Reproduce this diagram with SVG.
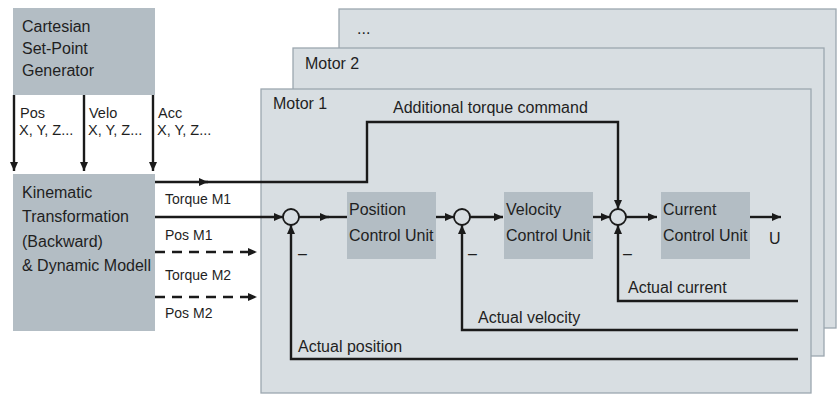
<svg xmlns="http://www.w3.org/2000/svg" width="840" height="395" viewBox="0 0 840 395">
<defs>
<marker id="ah" markerUnits="userSpaceOnUse" markerWidth="10" markerHeight="8" refX="9" refY="4" orient="auto">
<path d="M0,0 L9,4 L0,8 Z" fill="#1a1a1a"/>
</marker>
</defs>
<style>
text{font-family:"Liberation Sans",Arial,sans-serif;fill:#1f1f1f;font-size:16px}
.sm{font-size:14px}
.xs{font-size:14.5px}
.bg{fill:#d8dee2;stroke:#9ca7af;stroke-width:1.3}
.nd{fill:#b3bdc4}
.ln{fill:none;stroke:#1a1a1a;stroke-width:2.4}
.ar{marker-end:url(#ah)}
.da{stroke-dasharray:10 7}
.sj{fill:#d8dee2;stroke:#1a1a1a;stroke-width:1.8}
</style>
<rect width="840" height="395" fill="#ffffff"/>

<g id="motor-n">
<rect class="bg" x="339" y="9" width="497" height="319"/>
<text x="357" y="34">...</text>
</g>
<g id="motor-2">
<rect class="bg" x="293" y="48" width="531" height="308"/>
<text x="305" y="69">Motor 2</text>
</g>
<g id="motor-1">
<rect class="bg" x="261" y="89" width="550" height="304"/>
<text x="273" y="109">Motor 1</text>
</g>

<g id="setpoint-generator">
<rect class="nd" x="13" y="8" width="142" height="87"/>
<text x="22" y="32">Cartesian</text>
<text x="22" y="54">Set-Point</text>
<text x="22" y="76">Generator</text>
</g>

<g id="kinematic">
<rect class="nd" x="13" y="174" width="142" height="157"/>
<text x="22" y="198">Kinematic</text>
<text x="22" y="222">Transformation</text>
<text x="22" y="247">(Backward)</text>
<text x="22" y="271">&amp; Dynamic Modell</text>
</g>

<g id="position-control">
<rect class="nd" x="347" y="192" width="89" height="67"/>
<text x="349" y="215">Position</text>
<text x="349" y="241">Control Unit</text>
</g>
<g id="velocity-control">
<rect class="nd" x="504" y="192" width="89" height="67"/>
<text x="506" y="215">Velocity</text>
<text x="506" y="241">Control Unit</text>
</g>
<g id="current-control">
<rect class="nd" x="661" y="192" width="89" height="67"/>
<text x="663" y="215">Current</text>
<text x="663" y="241">Control Unit</text>
</g>

<g id="sum1"><circle class="sj" cx="291" cy="217" r="8"/></g>
<g id="sum2"><circle class="sj" cx="462" cy="217" r="8"/></g>
<g id="sum3"><circle class="sj" cx="618" cy="217" r="8"/></g>

<g id="connectors">
<line class="ln ar" x1="14" y1="95" x2="14" y2="171"/>
<line class="ln ar" x1="84" y1="95" x2="84" y2="171"/>
<line class="ln ar" x1="153" y1="95" x2="153" y2="171"/>
<line class="ln ar" x1="155" y1="182" x2="208" y2="182"/>
<path class="ln ar" d="M205,182 H367 V122 H618 V209"/>
<line class="ln ar" x1="155" y1="217" x2="283" y2="217"/>
<line class="ln da ar" x1="155" y1="252" x2="257" y2="252"/>
<line class="ln da ar" x1="155" y1="297" x2="257" y2="297"/>
<line class="ln ar" x1="299" y1="217" x2="329" y2="217"/>
<line class="ln" x1="326" y1="217" x2="347" y2="217"/>
<line class="ln ar" x1="436" y1="217" x2="454" y2="217"/>
<line class="ln ar" x1="470" y1="217" x2="503" y2="217"/>
<line class="ln ar" x1="593" y1="217" x2="610" y2="217"/>
<line class="ln ar" x1="626" y1="217" x2="657" y2="217"/>
<line class="ln ar" x1="750" y1="217" x2="781" y2="217"/>
<path class="ln ar" d="M798,301 H618 V225"/>
<path class="ln ar" d="M798,330 H462 V225"/>
<path class="ln ar" d="M798,359 H291 V225"/>
</g>

<g id="labels">
<text class="xs" x="20" y="118">Pos</text>
<text class="xs" x="19" y="135">X, Y, Z...</text>
<text class="xs" x="89" y="118">Velo</text>
<text class="xs" x="88" y="135">X, Y, Z...</text>
<text class="xs" x="158" y="118">Acc</text>
<text class="xs" x="157" y="135">X, Y, Z...</text>
<text class="sm" x="165" y="204">Torque M1</text>
<text class="sm" x="165" y="240">Pos M1</text>
<text class="sm" x="165" y="280">Torque M2</text>
<text class="sm" x="165" y="318">Pos M2</text>
<text x="393" y="113">Additional torque command</text>
<text x="298" y="259">–</text>
<text x="468" y="259">–</text>
<text x="623" y="259">–</text>
<text x="769" y="244">U</text>
<text x="628" y="293">Actual current</text>
<text x="478" y="323">Actual velocity</text>
<text x="298" y="352">Actual position</text>
</g>
</svg>
